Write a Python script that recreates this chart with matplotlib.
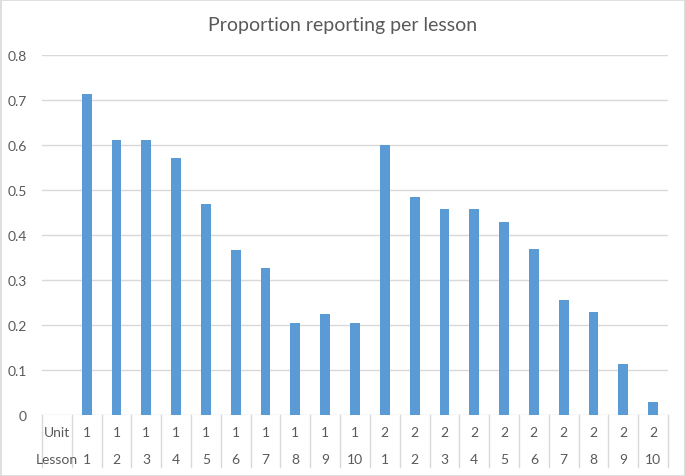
import matplotlib
matplotlib.use("Agg")
import matplotlib.pyplot as plt
from matplotlib.patches import Rectangle
import matplotlib.transforms as mtransforms

plt.rcParams['font.family'] = ['Lato', 'DejaVu Sans']

units = ["1"] * 10 + ["2"] * 10
lessons = ["1", "2", "3", "4", "5", "6", "7", "8", "9", "10"] * 2
values = [0.713, 0.611, 0.611, 0.571, 0.469, 0.367, 0.326, 0.204, 0.224, 0.204,
          0.600, 0.485, 0.457, 0.457, 0.428, 0.370, 0.256, 0.228, 0.114, 0.028]
yticks = [0, 0.1, 0.2, 0.3, 0.4, 0.5, 0.6, 0.7, 0.8]
ytick_labels = ["0", "0.1", "0.2", "0.3", "0.4", "0.5", "0.6", "0.7", "0.8"]
title = "Proportion reporting per lesson"

W, H = 685, 477
fig = plt.figure(figsize=(W / 100, H / 100), dpi=100)
fig.patch.set_facecolor("white")

left, right, y0, y1 = 42, 668, 416, 56
ax = fig.add_axes([left / W, 1 - y0 / H, (right - left) / W, (y0 - y1) / H])

bar_color = "#5B9BD5"
grid_color = "#D9D9D9"
text_color = "#595959"
fs = 10

positions = list(range(1, len(values) + 1))
ax.bar(positions, values, width=0.33, color=bar_color, zorder=3)

ax.set_xlim(-0.5, len(values) + 0.5)
ax.set_ylim(0, 0.8)
ax.set_yticks(yticks)
ax.set_yticklabels(ytick_labels)
ax.tick_params(axis='y', length=0, pad=11, labelsize=fs, labelcolor=text_color)
ax.set_xticks([])
for s in ax.spines.values():
    s.set_visible(False)
for yv in yticks:
    ax.axhline(yv, color=grid_color, lw=1, zorder=1)

trans = mtransforms.blended_transform_factory(ax.transData, ax.transAxes)
row1 = -(433 - 416) / (y0 - y1)
row2 = -(460 - 416) / (y0 - y1)
bottom = -(468 - 416) / (y0 - y1)
ax.text(0, row1, "Unit", transform=trans, ha='center', va='center', fontsize=fs, color=text_color)
ax.text(0, row2, "Lesson", transform=trans, ha='center', va='center', fontsize=fs, color=text_color)
for p, u, l in zip(positions, units, lessons):
    ax.text(p, row1, u, transform=trans, ha='center', va='center', fontsize=fs, color=text_color)
    ax.text(p, row2, l, transform=trans, ha='center', va='center', fontsize=fs, color=text_color)
for xb in [i - 0.5 for i in range(len(values) + 2)]:
    ax.plot([xb, xb], [0, bottom], transform=trans, color=grid_color, lw=1, clip_on=False)

fig.text(0.5, 1 - 25 / H, title, ha='center', va='center', fontsize=14, color=text_color)

fig.patches.append(Rectangle((0.5 / W, 0.5 / H), 1 - 1 / W, 1 - 1 / H, transform=fig.transFigure,
                             fill=False, edgecolor=grid_color, lw=1.2))

fig.savefig("out.png", dpi=100)
